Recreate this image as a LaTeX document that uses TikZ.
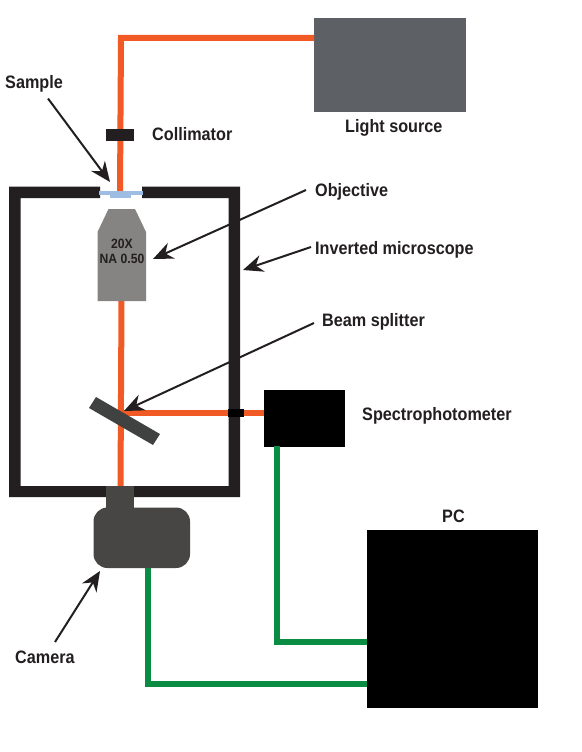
\documentclass[tikz,border=0pt]{standalone}
\usepackage{fontspec}
\setmainfont{Liberation Sans}[FakeStretch=0.9]
\usetikzlibrary{arrows.meta,calc}
\definecolor{beamc}{HTML}{F15A24}
\definecolor{greenc}{HTML}{0B8C43}
\definecolor{framec}{HTML}{231F20}
\definecolor{greyc}{HTML}{5D6064}
\definecolor{objc}{HTML}{858482}
\definecolor{camc}{HTML}{484644}
\definecolor{splitc}{HTML}{404241}
\definecolor{bluec}{HTML}{9DBDE3}
\tikzset{
  lbl/.style={font=\fontsize{18}{20}\selectfont\bfseries,text=framec,inner sep=0pt,anchor=west},
  boxn/.style={inner sep=0pt,outer sep=0pt,draw=none,anchor=north west},
  beam/.style={draw=beamc,line width=6pt,line join=miter},
  wire/.style={draw=greenc,line width=6.5pt,line join=miter},
  pointer/.style={draw=framec,line width=2pt,-{Stealth[length=20pt,width=17pt,inset=6.5pt]}}
}
\begin{document}
\begin{tikzpicture}[x=1pt,y=-1pt]
\useasboundingbox[fill=white] (0,0) rectangle (581,752);
% boxes
\node[boxn,fill=greyc,minimum width=152pt,minimum height=94pt] (light) at (314,18) {};
\node[boxn,fill=black,minimum width=81pt,minimum height=57pt] (spec) at (264,390) {};
\node[boxn,fill=black,minimum width=171pt,minimum height=178pt] (pc) at (367,530) {};
% coordinates
\coordinate (lightport) at (314,38);
\coordinate (corner) at (121,38);
\coordinate (sampletop) at (120,192);
\coordinate (objbottom) at (121.5,300);
\coordinate (splitpoint) at (121,413);
\coordinate (portbottom) at (120.5,487);
\coordinate (specport) at (264,413);
\coordinate (specwire) at (277,446);
\coordinate (pcupper) at (367,642);
\coordinate (camwire) at (148,566);
\coordinate (pclower) at (367,684);
% beam
\draw[beam] (lightport) -- (corner) -- (sampletop);
\draw[beam] (objbottom) -- (portbottom);
\draw[beam] (splitpoint) -- (specport);
% wires
\draw[wire] (specwire) |- (pcupper);
\draw[wire] (camwire) |- (pclower);
% pointer targets
\coordinate (asample) at (48,98.5);
\coordinate (bsample) at (110,182);
\coordinate (aobj) at (306,190);
\coordinate (bobj) at (153,259);
\coordinate (ainv) at (311,247);
\coordinate (binv) at (243,270);
\coordinate (abs) at (314,323);
\coordinate (bbs) at (124,411);
\coordinate (acam) at (55,642);
\coordinate (bcam) at (100,571);
% microscope frame
\fill[framec,even odd rule] (100,186.5) -- (9,186.5) -- (9,497) -- (240,497) -- (240,186.5) -- (142,186.5) -- (142,198) -- (228.5,198) -- (228.5,486) -- (20.5,486) -- (20.5,198) -- (100,198) -- cycle;
\node[boxn,fill=black,minimum width=16pt,minimum height=8pt] (port) at (228,409) {};
% sample
\fill[bluec] (110,195) rectangle (131,197.5);
\fill[bluec] (99,191) rectangle (143,195);
% collimator
\node[boxn,fill=framec,minimum width=28pt,minimum height=12pt] (coll) at (106,129) {};
% objective
\fill[objc] (108.5,209) -- (135,209) -- (146,232) -- (146,301) -- (97.5,301) -- (97.5,232) -- cycle;
\node[font=\fontsize{13.5}{15.5}\selectfont\bfseries,text=framec,align=center,inner sep=0pt] (obj) at (122,251.5) {20X\\NA 0.50};
% splitter
\fill[splitc] (96,397) -- (89,408) -- (153,445) -- (160,434) -- cycle;
% camera
\fill[camc] (106,486) rectangle (134,510);
\fill[camc,rounded corners=14pt] (93.5,507.5) rectangle (190,568);
% labels
\node[lbl] (tsample) at (5,83.5) {Sample};
\node[lbl] (tcoll) at (152,134.5) {Collimator};
\node[lbl] (tlight) at (345,127.5) {Light source};
\node[lbl] (tobj) at (315,191.5) {Objective};
\node[lbl] (tinv) at (315,249.5) {Inverted microscope};
\node[lbl] (tbs) at (322,321.5) {Beam splitter};
\node[lbl] (tspec) at (362,415.5) {Spectrophotometer};
\node[lbl] (tpc) at (442,516.5) {PC};
\node[lbl] (tcam) at (15,657.5) {Camera};
% pointers
\draw[pointer] (asample) -- (bsample);
\draw[pointer] (aobj) -- (bobj);
\draw[pointer] (ainv) -- (binv);
\draw[pointer] (abs) -- (bbs);
\draw[pointer] (acam) -- (bcam);
\end{tikzpicture}
\end{document}
